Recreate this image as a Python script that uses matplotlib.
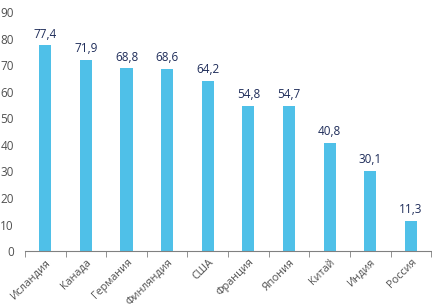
import matplotlib.pyplot as plt
import numpy as np

countries = ['Исландия', 'Канада', 'Германия', 'Финляндия', 'США',
             'Франция', 'Япония', 'Китай', 'Индия', 'Россия']
values = [77.4, 71.9, 68.8, 68.6, 64.2, 54.8, 54.7, 40.8, 30.1, 11.3]

plt.rcParams['font.family'] = ['Open Sans', 'DejaVu Sans']

fig = plt.figure(figsize=(4.32, 3.07), dpi=100)
ax = fig.add_axes([0.058, 0.182, 0.94, 0.779])

x = np.arange(len(countries))
ax.bar(x, values, width=0.3, color='#4FC0E8')

for xi, v in zip(x, values):
    ax.text(xi, v + 1.8, '{:.1f}'.format(v).replace('.', ','), ha='center', va='bottom',
            fontsize=8.5, color='#1F2D5A')

ax.set_xlim(-0.5, len(countries) - 0.5)
ax.set_ylim(0, 90)
ax.set_yticks(range(0, 91, 10))
ax.tick_params(axis='y', length=0, labelsize=8.5, labelcolor='#505050', pad=8)

# category ticks sit between bars
ax.set_xticks(x)
ax.set_xticklabels(countries, rotation=45, ha='right', rotation_mode='anchor',
                   fontsize=7.8, color='#505050')
ax.tick_params(axis='x', length=0, pad=4)
ax.set_xticks(np.arange(-0.5, len(countries), 1), minor=True)
ax.tick_params(axis='x', which='minor', length=4, color='#808080', direction='out')

for s in ['top', 'right', 'left']:
    ax.spines[s].set_visible(False)
ax.spines['bottom'].set_color('#808080')
ax.spines['bottom'].set_linewidth(0.8)

fig.savefig('out.png', dpi=100)
